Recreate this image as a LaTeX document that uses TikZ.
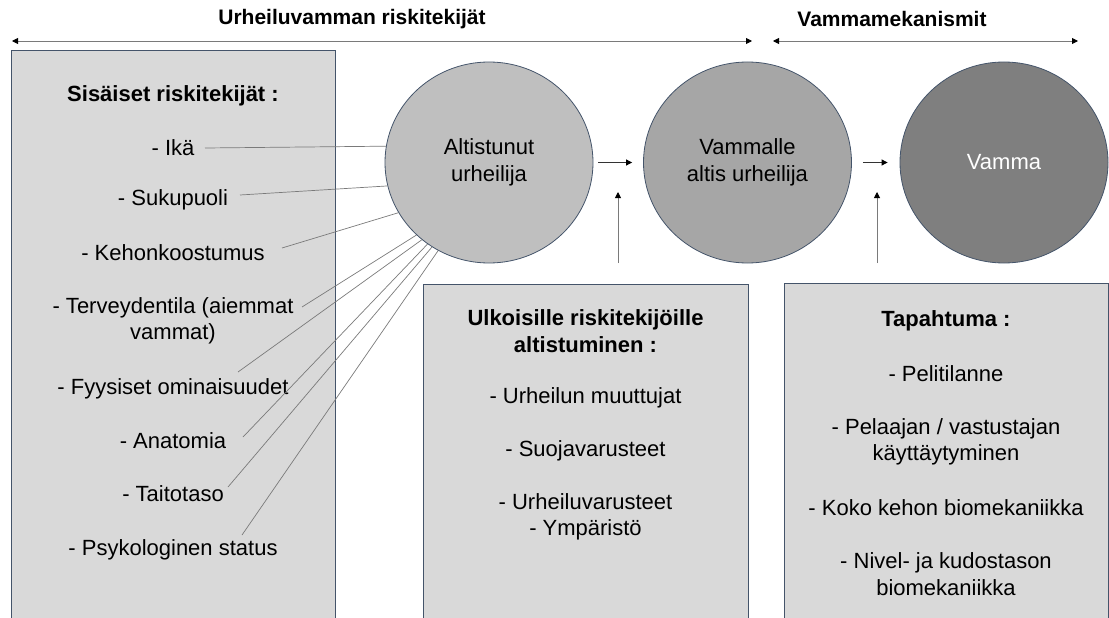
\documentclass[tikz,border=0pt]{standalone}
\usepackage{fontspec}
\setmainfont{Liberation Sans}
\usetikzlibrary{arrows.meta,shapes.geometric}

\definecolor{boxgray}{HTML}{D9D9D9}
\definecolor{edgeblue}{HTML}{44546A}
\definecolor{linkgray}{HTML}{7A7A7A}
\definecolor{circA}{HTML}{BFBFBF}
\definecolor{circB}{HTML}{A6A6A6}
\definecolor{circC}{HTML}{7F7F7F}

\tikzset{
  panel/.style={draw=edgeblue, fill=boxgray, line width=0.8pt},
  stage/.style={ellipse, draw=edgeblue, line width=0.8pt, inner sep=0pt,
    minimum width=208pt, minimum height=201pt, align=center,
    font=\fontsize{22}{27}\selectfont},
  item/.style={inner sep=0pt, align=center, font=\fontsize{22}{26.5}\selectfont},
  title/.style={inner sep=0pt, align=center, font=\fontsize{22}{26.5}\selectfont\bfseries},
  toptitle/.style={inner sep=0pt, font=\fontsize{21}{25}\selectfont\bfseries},
  link/.style={draw=linkgray, line width=0.7pt},
  tip/.tip={Triangle[length=6pt,width=6pt,color=black]},
  flow/.style={draw=black!80, line width=0.8pt, -tip},
  rise/.style={draw=linkgray, line width=0.9pt, -tip},
  span/.style={draw=linkgray, line width=0.9pt, tip-tip},
}

\begin{document}
\begin{tikzpicture}[x=1pt, y=-1pt]
\useasboundingbox (0,0) rectangle (1109,618);

% headings and their range arrows
\node[toptitle] (hrisk) at (352,19) {Urheiluvamman riskitekijät};
\node[toptitle] (hmech) at (892,19) {Vammamekanismit};
\coordinate (rs) at (12,41);   \coordinate (re) at (752,41);
\coordinate (ms) at (773,41);  \coordinate (me) at (1078,41);
\draw[span] (rs) -- (re);
\draw[span] (ms) -- (me);

% panels
\draw[panel] (11,50) rectangle (335,625);
\draw[panel] (423,284) rectangle (748,625);
\draw[panel] (784,283) rectangle (1108,625);

% stages
\node[stage, fill=circA] (c1) at (489,162.5) {Altistunut\\urheilija};
\node[stage, fill=circB] (c2) at (747.5,162.5) {Vammalle\\altis urheilija};
\node[stage, fill=circC, text=white] (c3) at (1004,162.5) {Vamma};

\draw[flow, shorten <=5pt, shorten >=11pt] (c1) -- (c2);
\draw[flow, shorten <=11pt, shorten >=12pt] (c2) -- (c3);

\coordinate (u1) at (618,263); \coordinate (v1) at (618,192);
\coordinate (u2) at (877,263); \coordinate (v2) at (877,192);
\draw[rise] (u1) -- (v1);
\draw[rise] (u2) -- (v2);

% intrinsic risk factors
\node[title] (sis) at (173,96) {Sisäiset riskitekijät :};
\node[item] (ika)  at (173,148) {- Ikä};
\node[item] (suku) at (173,200) {- Sukupuoli};
\node[item] (keho) at (173,253) {- Kehonkoostumus};
\node[item] (terv) at (173,321) {- Terveydentila (aiemmat\\vammat)};
\node[item] (fyys) at (173,389) {- Fyysiset ominaisuudet};
\node[item] (anat) at (173,441) {- Anatomia};
\node[item] (taito) at (173,494) {- Taitotaso};
\node[item] (psyk) at (173,550) {- Psykologinen status};

\coordinate (ika-s)   at (205,148);
\coordinate (suku-s)  at (240,195);
\coordinate (keho-s)  at (282,248);
\coordinate (terv-s)  at (302,307);
\coordinate (fyys-s)  at (238,372);
\coordinate (anat-s)  at (243,437);
\coordinate (taito-s) at (228,487);
\coordinate (psyk-s)  at (242,535);

\draw[link] (ika-s)   -- (c1.171);
\draw[link] (suku-s)  -- (c1.193);
\draw[link] (keho-s)  -- (c1.209);
\draw[link] (terv-s)  -- (c1.225);
\draw[link] (fyys-s)  -- (c1.229);
\draw[link] (anat-s)  -- (c1.233);
\draw[link] (taito-s) -- (c1.236);
\draw[link] (psyk-s)  -- (c1.240);

% exposure to extrinsic risk factors
\node[title] (ulk) at (585.5,331) {Ulkoisille riskitekijöille\\altistuminen :};
\node[item] (muut) at (585.5,398) {- Urheilun muuttujat};
\node[item] (suoj) at (585.5,451) {- Suojavarusteet};
\node[item] (varu) at (585.5,517) {- Urheiluvarusteet\\- Ympäristö};

% inciting event
\node[title] (tap) at (946,321) {Tapahtuma :};
\node[item] (peli) at (946,374) {- Pelitilanne};
\node[item] (pela) at (946,442) {- Pelaajan / vastustajan\\käyttäytyminen};
\node[item] (koko) at (946,508) {- Koko kehon biomekaniikka};
\node[item] (nive) at (946,574) {- Nivel- ja kudostason\\biomekaniikka};
\end{tikzpicture}
\end{document}
